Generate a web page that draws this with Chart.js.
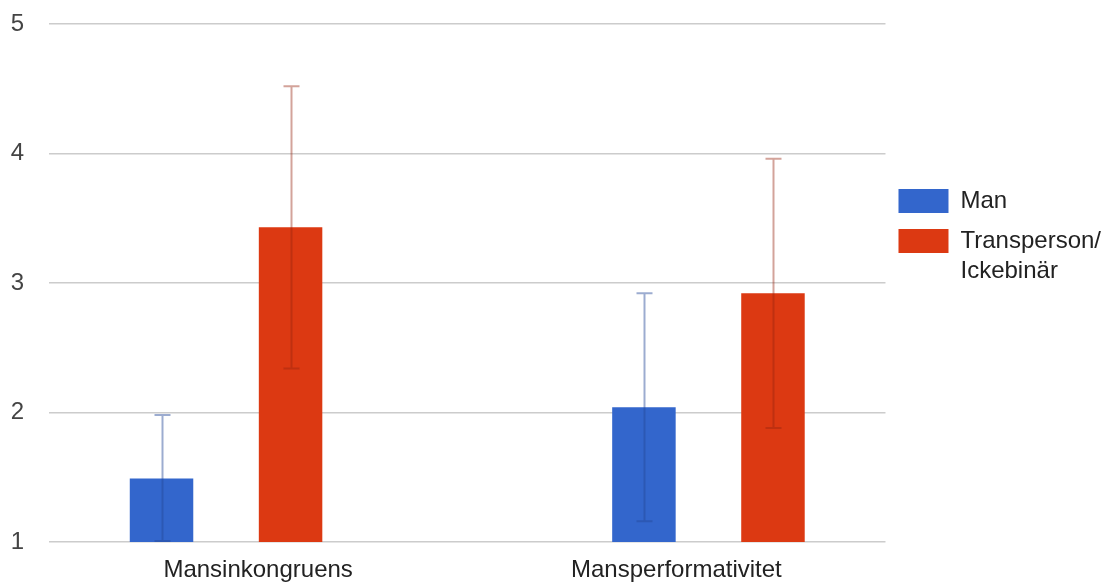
<!DOCTYPE html>
<html>
<head>
<meta charset="utf-8">
<script src="https://cdn.jsdelivr.net/npm/chart.js@4.4.0/dist/chart.umd.min.js"></script>
<style>
  html, body { margin: 0; padding: 0; background: #ffffff; }
  #wrap { position: relative; width: 1102px; height: 583px; }
</style>
</head>
<body>
<div id="wrap"><canvas id="c" width="1102" height="583"></canvas></div>
<script>
// ---- data ----
const categories = ['Mansinkongruens', 'Mansperformativitet'];
const seriesNames = ['Man', ['Transperson/', 'Ickebinär']];
const manValues = [1.49, 2.04];
const manErrors = [0.49, 0.88];
const transValues = [3.43, 2.92];
const transErrors = [1.09, 1.04];
const yTicks = [1, 2, 3, 4, 5];

const FONT = "'Liberation Sans', Arial, sans-serif";

function toPoints(vals, errs) {
  return vals.map((v, i) => ({ x: i, y: v, err: errs[i] }));
}

const errorBars = {
  id: 'errorBars',
  afterDatasetsDraw(chart) {
    const ctx = chart.ctx;
    const y = chart.scales.y;
    const area = chart.chartArea;
    chart.data.datasets.forEach((ds, di) => {
      const meta = chart.getDatasetMeta(di);
      ctx.save();
      ctx.strokeStyle = ds.errorColor;
      ctx.lineWidth = 2;
      meta.data.forEach((bar, i) => {
        const p = ds.data[i];
        const top = Math.max(area.top, y.getPixelForValue(p.y + p.err));
        const bot = Math.min(area.bottom - 1, y.getPixelForValue(p.y - p.err));
        const x = Math.round(bar.x) + 0.5;
        ctx.beginPath();
        ctx.moveTo(x, top); ctx.lineTo(x, bot);
        ctx.moveTo(x - 8, top); ctx.lineTo(x + 8, top);
        ctx.moveTo(x - 8, bot); ctx.lineTo(x + 8, bot);
        ctx.stroke();
      });
      ctx.restore();
    });
  }
};

const legendPlace = {
  id: 'legendPlace',
  afterLayout(chart) {
    const lg = chart.legend;
    if (!lg) return;
    const h = lg.bottom - lg.top;
    lg.top = chart.chartArea.top + 149;
    lg.bottom = lg.top + h;
    const w = lg.right - lg.left;
    lg.left = chart.chartArea.right - 3;
    lg.right = lg.left + w;
  }
};

new Chart(document.getElementById('c'), {
  type: 'bar',
  data: {
    labels: categories,
    datasets: [
      { label: seriesNames[0], data: toPoints(manValues, manErrors), backgroundColor: '#3366CC', borderWidth: 0, xAxisID: 'xb', errorColor: 'rgba(35,70,150,0.45)' },
      { label: seriesNames[1], data: toPoints(transValues, transErrors), backgroundColor: '#DC3912', borderWidth: 0, xAxisID: 'xb', errorColor: 'rgba(150,35,15,0.42)' }
    ]
  },
  options: {
    responsive: false,
    animation: false,
    categoryPercentage: 0.535,
    barPercentage: 0.492,
    layout: { padding: { left: 11, top: 24, right: -12, bottom: 0 } },
    plugins: {
      legend: {
        position: 'right',
        align: 'start',
        fullSize: false,
        labels: {
          boxWidth: 50, boxHeight: 24, padding: 16,
          color: '#222', font: { family: FONT, size: 24, lineHeight: 1.25 }
        }
      },
      tooltip: { enabled: false }
    },
    scales: {
      x: {
        type: 'category',
        position: 'bottom',
        grid: { display: false, drawTicks: false },
        border: { display: false },
        ticks: { color: '#222', padding: 14, font: { family: FONT, size: 24 } },
        afterFit(scale) { scale.height = 41; }
      },
      xb: {
        type: 'linear',
        display: false,
        offset: false,
        min: -0.367, max: 1.367,
        afterBuildTicks(scale) { scale.ticks = [{ value: 0 }, { value: 1 }]; }
      },
      y: {
        min: 1, max: 5,
        afterBuildTicks(scale) { scale.ticks = yTicks.map(v => ({ value: v })); },
        grid: { color: '#cccccc', drawTicks: false, lineWidth: 1.5 },
        border: { display: false },
        ticks: { color: '#444', padding: 25, font: { family: FONT, size: 24 } },
        afterFit(scale) { scale.width = 38; scale.paddingTop = 10; scale.paddingBottom = 10; }
      }
    }
  },
  plugins: [errorBars, legendPlace]
});
</script>
</body>
</html>
